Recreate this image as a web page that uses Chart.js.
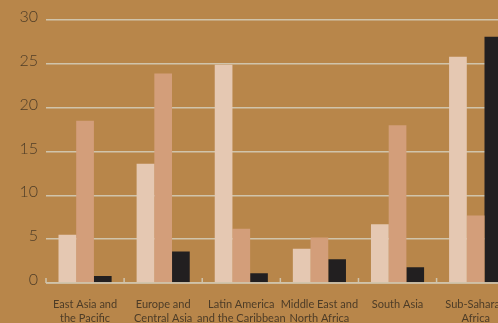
<!DOCTYPE html>
<html>
<head>
<meta charset="utf-8">
<script src="https://cdn.jsdelivr.net/npm/chart.js@4/dist/chart.umd.min.js"></script>
<style>
  html, body { margin: 0; padding: 0; background: #b8864a; overflow: hidden; }
  #wrap { width: 520px; height: 323px; }
</style>
</head>
<body>
<div id="wrap"><canvas id="chart"></canvas></div>
<script>
// categories and values
var regions = [
  ['East Asia and', 'the Pacific'],
  ['Europe and', 'Central Asia'],
  ['Latin America', 'and the Caribbean'],
  ['Middle East and', 'North Africa'],
  ['South Asia'],
  ['Sub-Saharan', 'Africa']
];
var seriesA = [5.5, 13.6, 24.9, 3.9, 6.7, 25.8];
var seriesB = [18.5, 23.9, 6.2, 5.2, 18.0, 7.7];
var seriesC = [0.8, 3.6, 1.1, 2.7, 1.8, 28.1];
var yTicks = [0, 5, 10, 15, 20, 25, 30];

var gridColor = '#d0c4ab';
var textColor = '#4d3c27';

// small tick marks at the group borders, drawn upward from the baseline
var groupTicks = {
  id: 'groupTicks',
  afterDatasetsDraw: function(chart) {
    var x = chart.scales.x, y = chart.scales.y, ctx = chart.ctx;
    var half = (x.getPixelForValue(1) - x.getPixelForValue(0)) / 2;
    var base = y.getPixelForValue(0);
    ctx.save();
    ctx.strokeStyle = gridColor;
    ctx.lineWidth = 1.5;
    ctx.beginPath();
    ctx.moveTo(chart.chartArea.left, base);
    ctx.lineTo(chart.chartArea.right, base);
    for (var i = 0; i <= regions.length; i++) {
      var px = x.getPixelForValue(i) - half;
      ctx.moveTo(px, base);
      ctx.lineTo(px, base - 5);
    }
    ctx.stroke();
    ctx.restore();
  }
};

var ctx = document.getElementById('chart').getContext('2d');
var chart = new Chart(ctx, {
  type: 'bar',
  data: {
    labels: regions,
    datasets: [
      { label: 'A', data: seriesA, backgroundColor: '#e5c8b2' },
      { label: 'B', data: seriesB, backgroundColor: '#d39e7a' },
      { label: 'C', data: seriesC, backgroundColor: '#221f20' }
    ]
  },
  options: {
    responsive: true,
    maintainAspectRatio: false,
    animation: false,
    layout: { padding: { top: 20, right: 0, left: 0, bottom: 0 } },
    plugins: { legend: { display: false }, tooltip: { enabled: false } },
    datasets: { bar: { barPercentage: 1, categoryPercentage: 0.68 } },
    scales: {
      x: {
        grid: { display: false, drawTicks: false },
        border: { display: false },
        ticks: {
          color: textColor,
          font: { family: 'Lato', size: 11, lineHeight: 1.3 },
          padding: 14,
          maxRotation: 0,
          autoSkip: false
        },
        afterFit: function(s) { s.height = 40; }
      },
      y: {
        min: 0,
        max: 30,
        afterBuildTicks: function(s) { s.ticks = yTicks.map(function(v) { return { value: v }; }); },
        grid: { color: gridColor, lineWidth: 1.5, drawTicks: false },
        border: { display: false },
        ticks: {
          color: textColor,
          font: { family: 'Lato', size: 16, weight: 300 },
          padding: 8,
          labelOffset: -3
        },
        afterFit: function(s) { s.width = 46; }
      }
    }
  },
  plugins: [groupTicks]
});
</script>
</body>
</html>
